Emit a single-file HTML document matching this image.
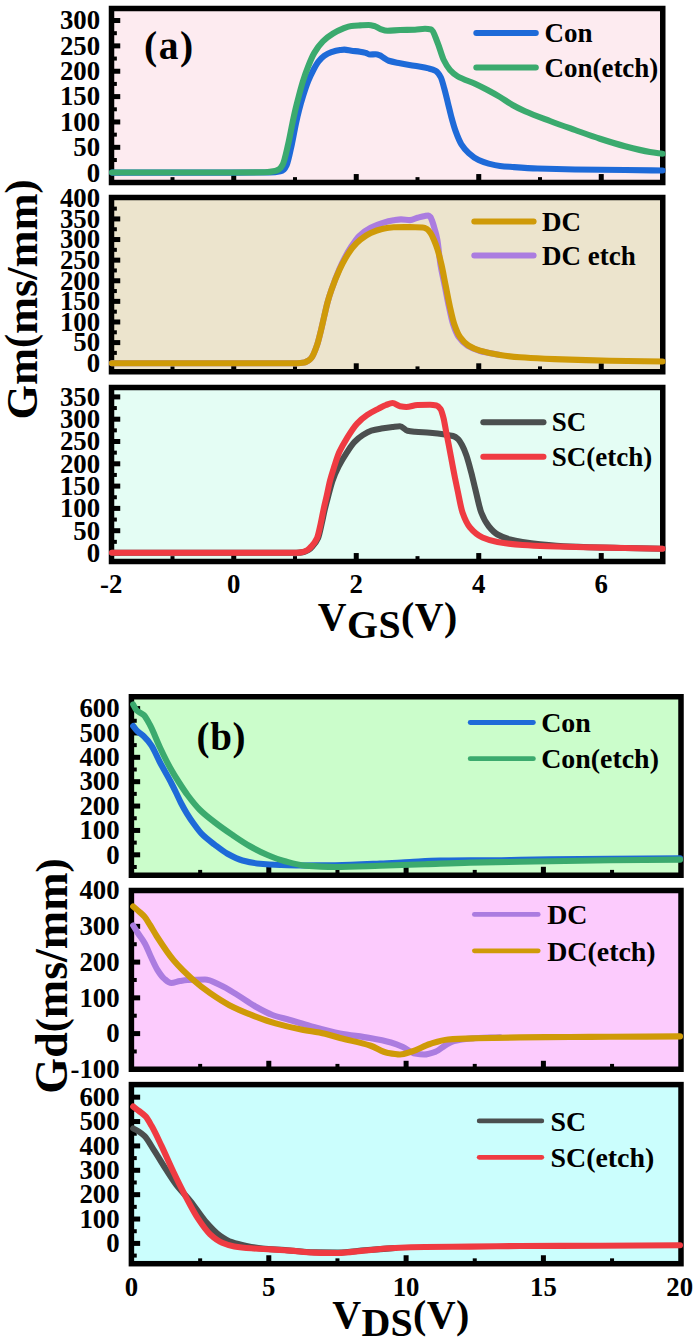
<!DOCTYPE html>
<html>
<head>
<meta charset="utf-8">
<title>Gm / Gd figure</title>
<style>
html,body{margin:0;padding:0;background:#fff;}
body{width:700px;height:1344px;overflow:hidden;}
svg{display:block;}
svg text{font-family:"Liberation Serif", "DejaVu Serif", serif;font-weight:bold;fill:#000;}
</style>
</head>
<body>
<svg width="700" height="1344" viewBox="0 0 700 1344">
<rect width="700" height="1344" fill="#fff"/>
<rect x="111.50" y="8.50" width="551.25" height="174.00" fill="#fdebf0"/>
<rect x="231.25" y="174.05" width="5.00" height="6.20" fill="#000"/>
<rect x="353.75" y="174.05" width="5.00" height="6.20" fill="#000"/>
<rect x="476.25" y="174.05" width="5.00" height="6.20" fill="#000"/>
<rect x="598.75" y="174.05" width="5.00" height="6.20" fill="#000"/>
<rect x="170.50" y="177.15" width="4.00" height="3.10" fill="#000"/>
<rect x="293.00" y="177.15" width="4.00" height="3.10" fill="#000"/>
<rect x="415.50" y="177.15" width="4.00" height="3.10" fill="#000"/>
<rect x="538.00" y="177.15" width="4.00" height="3.10" fill="#000"/>
<rect x="113.75" y="170.20" width="6.50" height="5.00" fill="#000"/>
<rect x="113.75" y="144.83" width="6.50" height="5.00" fill="#000"/>
<rect x="113.75" y="119.47" width="6.50" height="5.00" fill="#000"/>
<rect x="113.75" y="94.10" width="6.50" height="5.00" fill="#000"/>
<rect x="113.75" y="68.74" width="6.50" height="5.00" fill="#000"/>
<rect x="113.75" y="43.38" width="6.50" height="5.00" fill="#000"/>
<rect x="113.75" y="18.01" width="6.50" height="5.00" fill="#000"/>
<rect x="113.75" y="158.02" width="3.10" height="4.00" fill="#000"/>
<rect x="113.75" y="132.65" width="3.10" height="4.00" fill="#000"/>
<rect x="113.75" y="107.29" width="3.10" height="4.00" fill="#000"/>
<rect x="113.75" y="81.92" width="3.10" height="4.00" fill="#000"/>
<rect x="113.75" y="56.56" width="3.10" height="4.00" fill="#000"/>
<rect x="113.75" y="31.19" width="3.10" height="4.00" fill="#000"/>
<text x="100.10" y="181.50" font-size="26.80" text-anchor="end" >0</text>
<text x="100.10" y="156.13" font-size="26.80" text-anchor="end" >50</text>
<text x="100.10" y="130.77" font-size="26.80" text-anchor="end" >100</text>
<text x="100.10" y="105.40" font-size="26.80" text-anchor="end" >150</text>
<text x="100.10" y="80.04" font-size="26.80" text-anchor="end" >200</text>
<text x="100.10" y="54.67" font-size="26.80" text-anchor="end" >250</text>
<text x="100.10" y="29.31" font-size="26.80" text-anchor="end" >300</text>
<rect x="111.50" y="8.50" width="551.25" height="174.00" fill="none" stroke="#000" stroke-width="5.50"/>
<path d="M112.00 172.60 C141.33 172.60 170.67 172.60 200.00 172.60 C223.33 172.60 246.67 172.59 270.00 172.50 C273.47 172.49 276.93 172.04 280.40 171.30 C281.60 171.04 282.80 170.31 284.00 169.30 C284.90 168.54 285.80 166.97 286.70 165.00 C288.43 161.21 290.17 151.81 291.90 144.00 C293.27 137.84 294.63 129.62 296.00 123.30 C297.03 118.52 298.07 114.00 299.10 110.00 C300.47 104.72 301.83 100.05 303.20 95.70 C304.83 90.50 306.47 85.45 308.10 81.40 C309.87 77.02 311.63 73.30 313.40 70.00 C315.13 66.76 316.87 63.57 318.60 61.40 C320.50 59.02 322.40 56.99 324.30 55.70 C326.67 54.09 329.03 52.89 331.40 52.10 C334.27 51.14 337.13 50.37 340.00 50.00 C341.43 49.82 342.87 49.60 344.30 49.60 C346.67 49.60 349.03 50.38 351.40 50.70 C354.27 51.08 357.13 51.26 360.00 51.70 C361.90 51.99 363.80 52.38 365.70 52.90 C367.13 53.29 368.57 54.50 370.00 54.50 C371.90 54.50 373.80 54.30 375.70 54.30 C377.13 54.30 378.57 54.86 380.00 55.40 C380.83 55.72 381.67 56.48 382.50 57.00 C384.58 58.30 386.67 60.05 388.75 60.75 C392.50 62.00 396.25 62.45 400.00 63.20 C404.77 64.15 409.53 64.93 414.30 65.80 C419.07 66.67 423.83 67.21 428.60 68.40 C430.97 68.99 433.33 69.56 435.70 70.90 C437.37 71.84 439.03 74.05 440.70 77.10 C441.90 79.30 443.10 84.35 444.30 88.60 C445.50 92.85 446.70 98.08 447.90 102.90 C449.07 107.58 450.23 112.82 451.40 117.10 C452.83 122.36 454.27 127.50 455.70 131.40 C457.60 136.56 459.50 141.29 461.40 144.30 C463.80 148.10 466.20 150.73 468.60 152.90 C471.93 155.91 475.27 158.41 478.60 160.00 C481.93 161.59 485.27 162.71 488.60 163.60 C492.40 164.62 496.20 165.56 500.00 166.00 C504.17 166.49 508.33 166.71 512.50 167.00 C520.83 167.58 529.17 168.18 537.50 168.50 C550.00 168.97 562.50 169.31 575.00 169.50 C591.67 169.75 608.33 169.81 625.00 170.00 C637.50 170.14 650.00 170.33 662.50 170.50" fill="none" stroke="#1e6ad8" stroke-width="6.10" stroke-linecap="round" stroke-linejoin="round"/>
<path d="M112.00 172.50 C141.33 172.50 170.67 172.50 200.00 172.50 C221.67 172.50 243.33 172.47 265.00 172.30 C268.33 172.27 271.67 171.79 275.00 171.10 C276.33 170.82 277.67 170.19 279.00 169.30 C280.17 168.52 281.33 167.07 282.50 165.00 C284.40 161.63 286.30 152.07 288.20 144.00 C289.60 138.05 291.00 129.94 292.40 123.30 C293.37 118.72 294.33 114.13 295.30 110.00 C296.50 104.88 297.70 100.22 298.90 95.70 C300.23 90.68 301.57 85.65 302.90 81.40 C304.57 76.08 306.23 71.29 307.90 67.10 C310.03 61.74 312.17 56.50 314.30 52.90 C317.17 48.06 320.03 44.24 322.90 41.40 C326.23 38.09 329.57 35.63 332.90 33.60 C336.23 31.57 339.57 29.86 342.90 28.60 C345.73 27.53 348.57 26.32 351.40 26.00 C354.27 25.67 357.13 25.56 360.00 25.40 C362.87 25.24 365.73 25.00 368.60 25.00 C370.50 25.00 372.40 25.51 374.30 26.00 C376.20 26.49 378.10 28.14 380.00 28.80 C382.50 29.66 385.00 30.75 387.50 30.75 C391.67 30.75 395.83 30.13 400.00 30.00 C405.00 29.85 410.00 29.87 415.00 29.70 C418.33 29.58 421.67 28.75 425.00 28.75 C427.08 28.75 429.17 29.03 431.25 29.50 C433.33 29.97 435.42 37.53 437.50 42.50 C439.58 47.47 441.67 55.76 443.75 60.00 C445.83 64.24 447.92 67.69 450.00 70.00 C452.50 72.77 455.00 74.77 457.50 76.25 C463.33 79.70 469.17 81.05 475.00 83.75 C479.17 85.68 483.33 87.80 487.50 90.00 C491.67 92.20 495.83 94.51 500.00 97.00 C504.17 99.49 508.33 102.66 512.50 105.00 C516.67 107.34 520.83 109.40 525.00 111.25 C533.33 114.95 541.67 117.88 550.00 121.00 C558.33 124.12 566.67 127.04 575.00 130.00 C583.33 132.96 591.67 136.06 600.00 138.75 C608.33 141.44 616.67 144.08 625.00 146.25 C633.33 148.42 641.67 150.59 650.00 152.00 C654.17 152.71 658.33 153.17 662.50 153.75" fill="none" stroke="#3baa6e" stroke-width="6.10" stroke-linecap="round" stroke-linejoin="round"/>
<line x1="476.30" y1="33.10" x2="535.80" y2="33.10" stroke="#1e6ad8" stroke-width="6.00" stroke-linecap="round"/>
<line x1="476.30" y1="67.60" x2="535.80" y2="67.60" stroke="#3baa6e" stroke-width="6.00" stroke-linecap="round"/>
<text x="544.40" y="42.40" font-size="27.00" text-anchor="start" >Con</text>
<text x="544.40" y="76.60" font-size="27.00" text-anchor="start" >Con(etch)</text>
<text x="143.90" y="58.70" font-size="39.50" text-anchor="start" letter-spacing="1.6">(a)</text>
<rect x="111.50" y="197.50" width="551.25" height="174.25" fill="#ece4cd"/>
<rect x="231.25" y="363.30" width="5.00" height="6.20" fill="#000"/>
<rect x="353.75" y="363.30" width="5.00" height="6.20" fill="#000"/>
<rect x="476.25" y="363.30" width="5.00" height="6.20" fill="#000"/>
<rect x="598.75" y="363.30" width="5.00" height="6.20" fill="#000"/>
<rect x="170.50" y="366.40" width="4.00" height="3.10" fill="#000"/>
<rect x="293.00" y="366.40" width="4.00" height="3.10" fill="#000"/>
<rect x="415.50" y="366.40" width="4.00" height="3.10" fill="#000"/>
<rect x="538.00" y="366.40" width="4.00" height="3.10" fill="#000"/>
<rect x="113.75" y="360.70" width="6.50" height="5.00" fill="#000"/>
<rect x="113.75" y="340.09" width="6.50" height="5.00" fill="#000"/>
<rect x="113.75" y="319.48" width="6.50" height="5.00" fill="#000"/>
<rect x="113.75" y="298.87" width="6.50" height="5.00" fill="#000"/>
<rect x="113.75" y="278.26" width="6.50" height="5.00" fill="#000"/>
<rect x="113.75" y="257.65" width="6.50" height="5.00" fill="#000"/>
<rect x="113.75" y="237.04" width="6.50" height="5.00" fill="#000"/>
<rect x="113.75" y="216.43" width="6.50" height="5.00" fill="#000"/>
<rect x="113.75" y="350.89" width="3.10" height="4.00" fill="#000"/>
<rect x="113.75" y="330.28" width="3.10" height="4.00" fill="#000"/>
<rect x="113.75" y="309.68" width="3.10" height="4.00" fill="#000"/>
<rect x="113.75" y="289.06" width="3.10" height="4.00" fill="#000"/>
<rect x="113.75" y="268.45" width="3.10" height="4.00" fill="#000"/>
<rect x="113.75" y="247.84" width="3.10" height="4.00" fill="#000"/>
<rect x="113.75" y="227.23" width="3.10" height="4.00" fill="#000"/>
<rect x="113.75" y="206.62" width="3.10" height="4.00" fill="#000"/>
<text x="100.10" y="372.00" font-size="26.80" text-anchor="end" >0</text>
<text x="100.10" y="351.39" font-size="26.80" text-anchor="end" >50</text>
<text x="100.10" y="330.78" font-size="26.80" text-anchor="end" >100</text>
<text x="100.10" y="310.17" font-size="26.80" text-anchor="end" >150</text>
<text x="100.10" y="289.56" font-size="26.80" text-anchor="end" >200</text>
<text x="100.10" y="268.95" font-size="26.80" text-anchor="end" >250</text>
<text x="100.10" y="248.34" font-size="26.80" text-anchor="end" >300</text>
<text x="100.10" y="227.73" font-size="26.80" text-anchor="end" >350</text>
<text x="100.10" y="207.12" font-size="26.80" text-anchor="end" >400</text>
<rect x="111.50" y="197.50" width="551.25" height="174.25" fill="none" stroke="#000" stroke-width="5.50"/>
<path d="M112.00 363.30 C173.67 363.30 235.33 363.30 297.00 363.30 C299.43 363.30 301.87 363.02 304.30 362.60 C305.53 362.39 306.77 361.57 308.00 360.80 C309.13 360.10 310.27 359.25 311.40 357.90 C313.30 355.63 315.20 350.46 317.10 345.00 C318.37 341.36 319.63 335.81 320.90 330.70 C322.00 326.26 323.10 321.10 324.20 316.40 C325.33 311.56 326.47 306.22 327.60 302.10 C328.87 297.50 330.13 293.69 331.40 290.00 C334.00 282.43 336.60 275.51 339.20 269.50 C341.20 264.87 343.20 260.75 345.20 257.00 C347.30 253.07 349.40 249.45 351.50 246.30 C354.10 242.40 356.70 238.38 359.30 235.90 C363.10 232.28 366.90 229.66 370.70 227.70 C374.50 225.74 378.30 224.25 382.10 223.10 C385.93 221.94 389.77 220.91 393.60 220.30 C396.07 219.91 398.53 219.40 401.00 219.40 C404.00 219.40 407.00 220.10 410.00 220.10 C412.50 220.10 415.00 218.44 417.50 217.75 C420.00 217.06 422.50 216.27 425.00 215.90 C426.20 215.72 427.40 215.50 428.60 215.50 C429.20 215.50 429.80 216.27 430.40 217.00 C430.87 217.57 431.33 218.83 431.80 220.00 C432.80 222.50 433.80 225.94 434.80 229.50 C435.67 232.59 436.53 235.37 437.40 240.00 C438.40 245.35 439.40 258.05 440.40 264.30 C441.83 273.26 443.27 278.57 444.70 285.70 C446.13 292.83 447.57 300.58 449.00 307.10 C450.37 313.32 451.73 320.19 453.10 324.30 C454.97 329.91 456.83 334.45 458.70 337.10 C461.60 341.22 464.50 343.95 467.40 345.70 C471.60 348.24 475.80 349.83 480.00 351.00 C486.67 352.86 493.33 353.67 500.00 355.00" fill="none" stroke="#ab7ce0" stroke-width="6.10" stroke-linecap="round" stroke-linejoin="round"/>
<path d="M112.00 363.30 C141.33 363.30 170.67 363.30 200.00 363.30 C232.33 363.30 264.67 363.30 297.00 363.30 C299.43 363.30 301.87 363.02 304.30 362.60 C305.53 362.39 306.77 361.57 308.00 360.80 C309.13 360.10 310.27 359.25 311.40 357.90 C313.30 355.63 315.20 350.46 317.10 345.00 C318.37 341.36 319.63 335.81 320.90 330.70 C322.00 326.26 323.10 321.10 324.20 316.40 C325.33 311.56 326.47 306.22 327.60 302.10 C328.87 297.50 330.13 293.60 331.40 290.00 C334.07 282.42 336.73 275.79 339.40 270.00 C341.47 265.52 343.53 261.52 345.60 258.00 C347.87 254.14 350.13 250.45 352.40 247.70 C355.07 244.47 357.73 241.84 360.40 239.70 C363.83 236.95 367.27 234.48 370.70 232.90 C374.50 231.15 378.30 229.66 382.10 228.90 C385.93 228.14 389.77 227.42 393.60 227.30 C397.40 227.18 401.20 227.10 405.00 227.10 C408.57 227.10 412.13 227.14 415.70 227.20 C418.00 227.24 420.30 227.31 422.60 227.50 C424.10 227.62 425.60 228.27 427.10 229.10 C428.27 229.75 429.43 231.39 430.60 233.10 C431.73 234.76 432.87 237.38 434.00 240.00 C435.13 242.62 436.27 245.56 437.40 249.10 C438.73 253.27 440.07 258.56 441.40 264.30 C442.83 270.47 444.27 278.57 445.70 285.70 C447.13 292.83 448.57 300.74 450.00 307.10 C451.43 313.46 452.87 320.12 454.30 324.30 C456.20 329.84 458.10 334.40 460.00 337.10 C462.87 341.17 465.73 343.92 468.60 345.70 C472.40 348.06 476.20 349.57 480.00 350.70 C486.67 352.69 493.33 354.00 500.00 355.00 C506.67 356.00 513.33 356.79 520.00 357.30 C528.33 357.94 536.67 358.33 545.00 358.70 C553.33 359.07 561.67 359.34 570.00 359.60 C583.33 360.02 596.67 360.44 610.00 360.70 C627.50 361.05 645.00 361.23 662.50 361.50" fill="none" stroke="#cf9a08" stroke-width="6.10" stroke-linecap="round" stroke-linejoin="round"/>
<line x1="474.30" y1="221.60" x2="533.60" y2="221.60" stroke="#cf9a08" stroke-width="6.00" stroke-linecap="round"/>
<line x1="474.30" y1="255.60" x2="533.60" y2="255.60" stroke="#ab7ce0" stroke-width="6.00" stroke-linecap="round"/>
<text x="542.00" y="230.90" font-size="27.00" text-anchor="start" >DC</text>
<text x="542.00" y="265.10" font-size="27.00" text-anchor="start" >DC etch</text>
<rect x="111.50" y="387.50" width="551.25" height="174.00" fill="#e4fdf4"/>
<rect x="231.25" y="553.05" width="5.00" height="6.20" fill="#000"/>
<rect x="353.75" y="553.05" width="5.00" height="6.20" fill="#000"/>
<rect x="476.25" y="553.05" width="5.00" height="6.20" fill="#000"/>
<rect x="598.75" y="553.05" width="5.00" height="6.20" fill="#000"/>
<rect x="170.50" y="556.15" width="4.00" height="3.10" fill="#000"/>
<rect x="293.00" y="556.15" width="4.00" height="3.10" fill="#000"/>
<rect x="415.50" y="556.15" width="4.00" height="3.10" fill="#000"/>
<rect x="538.00" y="556.15" width="4.00" height="3.10" fill="#000"/>
<rect x="113.75" y="550.50" width="6.50" height="5.00" fill="#000"/>
<rect x="113.75" y="528.20" width="6.50" height="5.00" fill="#000"/>
<rect x="113.75" y="505.90" width="6.50" height="5.00" fill="#000"/>
<rect x="113.75" y="483.60" width="6.50" height="5.00" fill="#000"/>
<rect x="113.75" y="461.30" width="6.50" height="5.00" fill="#000"/>
<rect x="113.75" y="439.00" width="6.50" height="5.00" fill="#000"/>
<rect x="113.75" y="416.70" width="6.50" height="5.00" fill="#000"/>
<rect x="113.75" y="394.40" width="6.50" height="5.00" fill="#000"/>
<rect x="113.75" y="539.85" width="3.10" height="4.00" fill="#000"/>
<rect x="113.75" y="517.55" width="3.10" height="4.00" fill="#000"/>
<rect x="113.75" y="495.25" width="3.10" height="4.00" fill="#000"/>
<rect x="113.75" y="472.95" width="3.10" height="4.00" fill="#000"/>
<rect x="113.75" y="450.65" width="3.10" height="4.00" fill="#000"/>
<rect x="113.75" y="428.35" width="3.10" height="4.00" fill="#000"/>
<rect x="113.75" y="406.05" width="3.10" height="4.00" fill="#000"/>
<text x="100.10" y="561.80" font-size="26.80" text-anchor="end" >0</text>
<text x="100.10" y="539.50" font-size="26.80" text-anchor="end" >50</text>
<text x="100.10" y="517.20" font-size="26.80" text-anchor="end" >100</text>
<text x="100.10" y="494.90" font-size="26.80" text-anchor="end" >150</text>
<text x="100.10" y="472.60" font-size="26.80" text-anchor="end" >200</text>
<text x="100.10" y="450.30" font-size="26.80" text-anchor="end" >250</text>
<text x="100.10" y="428.00" font-size="26.80" text-anchor="end" >300</text>
<text x="100.10" y="405.70" font-size="26.80" text-anchor="end" >350</text>
<rect x="111.50" y="387.50" width="551.25" height="174.00" fill="none" stroke="#000" stroke-width="5.50"/>
<path d="M112.00 552.80 C173.67 552.80 235.33 552.80 297.00 552.80 C299.33 552.80 301.67 552.44 304.00 552.00 C305.50 551.72 307.00 550.91 308.50 550.00 C309.80 549.21 311.10 547.86 312.40 546.40 C314.30 544.26 316.20 542.17 318.10 537.90 C319.30 535.21 320.50 528.73 321.70 523.60 C322.73 519.18 323.77 513.66 324.80 509.30 C326.03 504.10 327.27 499.58 328.50 495.00 C329.83 490.05 331.17 484.53 332.50 480.70 C334.53 474.86 336.57 470.42 338.60 466.40 C341.43 460.80 344.27 456.40 347.10 452.10 C349.50 448.46 351.90 444.60 354.30 442.10 C357.17 439.11 360.03 436.80 362.90 435.00 C365.73 433.22 368.57 431.55 371.40 430.70 C374.73 429.70 378.07 429.17 381.40 428.60 C385.10 427.97 388.80 427.43 392.50 427.00 C395.00 426.71 397.50 426.25 400.00 426.25 C402.50 426.25 405.00 430.20 407.50 430.75 C410.00 431.30 412.50 431.51 415.00 431.75 C420.00 432.23 425.00 432.37 430.00 432.80 C435.00 433.23 440.00 433.78 445.00 434.50 C447.67 434.89 450.33 435.21 453.00 436.00 C454.67 436.50 456.33 437.55 458.00 439.00 C459.33 440.16 460.67 442.56 462.00 445.00 C463.42 447.59 464.83 451.03 466.25 455.00 C467.92 459.67 469.58 466.18 471.25 472.50 C472.67 477.87 474.08 484.31 475.50 490.00 C477.42 497.70 479.33 507.64 481.25 512.50 C483.75 518.84 486.25 523.11 488.75 526.25 C491.67 529.91 494.58 532.82 497.50 534.50 C501.67 536.90 505.83 538.39 510.00 539.50 C514.17 540.61 518.33 541.34 522.50 542.00 C528.33 542.92 534.17 543.68 540.00 544.25 C550.00 545.22 560.00 546.08 570.00 546.50 C588.33 547.27 606.67 547.58 625.00 548.00 C637.50 548.29 650.00 548.50 662.50 548.75" fill="none" stroke="#4b4f4f" stroke-width="6.10" stroke-linecap="round" stroke-linejoin="round"/>
<path d="M112.00 552.80 C141.33 552.80 170.67 552.80 200.00 552.80 C232.00 552.80 264.00 552.80 296.00 552.80 C298.30 552.80 300.60 552.44 302.90 552.00 C304.43 551.71 305.97 550.92 307.50 550.00 C308.80 549.22 310.10 547.86 311.40 546.40 C313.30 544.26 315.20 542.17 317.10 537.90 C318.30 535.21 319.50 528.90 320.70 523.60 C321.67 519.33 322.63 513.77 323.60 509.30 C324.70 504.22 325.80 499.92 326.90 495.00 C327.93 490.38 328.97 484.73 330.00 480.70 C331.43 475.11 332.87 470.82 334.30 466.40 C335.97 461.26 337.63 455.87 339.30 452.10 C341.90 446.22 344.50 442.09 347.10 437.90 C350.43 432.53 353.77 427.18 357.10 423.60 C360.43 420.02 363.77 417.26 367.10 415.00 C370.93 412.40 374.77 410.58 378.60 408.60 C381.07 407.33 383.53 405.93 386.00 405.00 C388.17 404.19 390.33 403.00 392.50 403.00 C395.00 403.00 397.50 405.79 400.00 406.25 C402.08 406.63 404.17 407.00 406.25 407.00 C410.00 407.00 413.75 405.11 417.50 405.00 C421.67 404.88 425.83 404.80 430.00 404.80 C432.17 404.80 434.33 405.06 436.50 405.50 C437.83 405.77 439.17 407.15 440.50 409.00 C441.50 410.39 442.50 414.16 443.50 418.00 C444.33 421.20 445.17 426.71 446.00 431.00 C446.92 435.72 447.83 440.23 448.75 445.00 C450.00 451.50 451.25 458.42 452.50 465.00 C453.33 469.38 454.17 473.84 455.00 478.00 C455.83 482.16 456.67 486.12 457.50 490.00 C459.17 497.77 460.83 507.76 462.50 512.50 C465.00 519.61 467.50 524.54 470.00 527.50 C474.17 532.44 478.33 535.66 482.50 537.50 C487.50 539.71 492.50 541.11 497.50 542.00 C505.83 543.48 514.17 544.41 522.50 545.00 C530.83 545.59 539.17 545.95 547.50 546.25 C560.00 546.71 572.50 547.03 585.00 547.30 C598.33 547.59 611.67 547.75 625.00 548.00 C637.50 548.23 650.00 548.50 662.50 548.75" fill="none" stroke="#ef3b42" stroke-width="6.10" stroke-linecap="round" stroke-linejoin="round"/>
<line x1="483.30" y1="422.20" x2="543.50" y2="422.20" stroke="#4b4f4f" stroke-width="6.00" stroke-linecap="round"/>
<line x1="483.30" y1="456.80" x2="543.50" y2="456.80" stroke="#ef3b42" stroke-width="6.00" stroke-linecap="round"/>
<text x="551.80" y="431.10" font-size="27.00" text-anchor="start" >SC</text>
<text x="551.80" y="465.60" font-size="27.00" text-anchor="start" >SC(etch)</text>
<text x="111.25" y="593.20" font-size="26.80" text-anchor="middle" >-2</text>
<text x="233.75" y="593.20" font-size="26.80" text-anchor="middle" >0</text>
<text x="356.25" y="593.20" font-size="26.80" text-anchor="middle" >2</text>
<text x="478.75" y="593.20" font-size="26.80" text-anchor="middle" >4</text>
<text x="601.25" y="593.20" font-size="26.80" text-anchor="middle" >6</text>
<text x="317.8" y="630.1" font-size="39.8" letter-spacing="0.45">V<tspan dy="8.2">GS</tspan><tspan dy="-8.2">(V)</tspan></text>
<text x="0" y="0" font-size="44.4" text-anchor="middle" transform="translate(36.8 299.5) rotate(-90)">Gm<tspan font-size="42.1" dy="-2.6">(</tspan><tspan dy="2.6">ms/mm</tspan><tspan font-size="42.1" dy="-2.6">)</tspan></text>
<rect x="131.40" y="696.75" width="549.60" height="178.50" fill="#cbfdcb"/>
<rect x="266.30" y="866.80" width="5.00" height="6.20" fill="#000"/>
<rect x="403.60" y="866.80" width="5.00" height="6.20" fill="#000"/>
<rect x="540.90" y="866.80" width="5.00" height="6.20" fill="#000"/>
<rect x="198.15" y="869.90" width="4.00" height="3.10" fill="#000"/>
<rect x="335.45" y="869.90" width="4.00" height="3.10" fill="#000"/>
<rect x="472.75" y="869.90" width="4.00" height="3.10" fill="#000"/>
<rect x="610.05" y="869.90" width="4.00" height="3.10" fill="#000"/>
<rect x="133.65" y="852.30" width="6.50" height="5.00" fill="#000"/>
<rect x="133.65" y="827.93" width="6.50" height="5.00" fill="#000"/>
<rect x="133.65" y="803.56" width="6.50" height="5.00" fill="#000"/>
<rect x="133.65" y="779.19" width="6.50" height="5.00" fill="#000"/>
<rect x="133.65" y="754.82" width="6.50" height="5.00" fill="#000"/>
<rect x="133.65" y="730.45" width="6.50" height="5.00" fill="#000"/>
<rect x="133.65" y="706.08" width="6.50" height="5.00" fill="#000"/>
<rect x="133.65" y="864.98" width="3.10" height="4.00" fill="#000"/>
<rect x="133.65" y="840.62" width="3.10" height="4.00" fill="#000"/>
<rect x="133.65" y="816.25" width="3.10" height="4.00" fill="#000"/>
<rect x="133.65" y="791.88" width="3.10" height="4.00" fill="#000"/>
<rect x="133.65" y="767.50" width="3.10" height="4.00" fill="#000"/>
<rect x="133.65" y="743.13" width="3.10" height="4.00" fill="#000"/>
<rect x="133.65" y="718.76" width="3.10" height="4.00" fill="#000"/>
<text x="119.60" y="863.60" font-size="26.80" text-anchor="end" >0</text>
<text x="119.60" y="839.23" font-size="26.80" text-anchor="end" >100</text>
<text x="119.60" y="814.86" font-size="26.80" text-anchor="end" >200</text>
<text x="119.60" y="790.49" font-size="26.80" text-anchor="end" >300</text>
<text x="119.60" y="766.12" font-size="26.80" text-anchor="end" >400</text>
<text x="119.60" y="741.75" font-size="26.80" text-anchor="end" >500</text>
<text x="119.60" y="717.38" font-size="26.80" text-anchor="end" >600</text>
<rect x="131.40" y="696.75" width="549.60" height="178.50" fill="none" stroke="#000" stroke-width="5.50"/>
<path d="M133.20 726.00 C134.63 727.75 136.07 729.85 137.50 731.25 C139.58 733.29 141.67 734.26 143.75 736.25 C146.33 738.72 148.92 741.73 151.50 745.60 C154.13 749.55 156.77 756.24 159.40 761.25 C163.20 768.48 167.00 774.68 170.80 782.00 C172.53 785.34 174.27 788.93 176.00 792.50 C177.67 795.93 179.33 799.79 181.00 803.00 C182.93 806.73 184.87 810.14 186.80 813.30 C189.12 817.08 191.43 820.56 193.75 823.75 C196.50 827.54 199.25 831.41 202.00 834.20 C206.20 838.46 210.40 841.39 214.60 844.60 C218.90 847.88 223.20 851.37 227.50 853.75 C232.50 856.52 237.50 859.17 242.50 860.50 C248.33 862.05 254.17 863.20 260.00 863.75 C266.67 864.38 273.33 864.76 280.00 865.00 C286.67 865.24 293.33 865.50 300.00 865.50 C311.67 865.50 323.33 865.36 335.00 865.20 C350.00 865.00 365.00 864.25 380.00 863.60 C390.00 863.17 400.00 862.50 410.00 862.00 C420.00 861.50 430.00 860.81 440.00 860.60 C450.00 860.39 460.00 860.20 470.00 860.20 C478.33 860.20 486.67 860.20 495.00 860.20 C503.33 860.20 511.67 859.92 520.00 859.80 C530.00 859.65 540.00 859.52 550.00 859.40 C570.00 859.17 590.00 858.98 610.00 858.80 C633.33 858.58 656.67 858.40 680.00 858.20" fill="none" stroke="#1e6ad8" stroke-width="6.10" stroke-linecap="round" stroke-linejoin="round"/>
<path d="M133.20 704.50 C134.22 706.33 135.23 708.94 136.25 710.00 C138.75 712.60 141.25 712.62 143.75 715.00 C145.83 716.99 147.92 721.15 150.00 725.00 C153.33 731.15 156.67 740.44 160.00 747.50 C163.33 754.56 166.67 761.47 170.00 767.50 C172.92 772.78 175.83 777.43 178.75 782.00 C181.67 786.57 184.58 791.10 187.50 795.00 C191.67 800.57 195.83 805.88 200.00 810.00 C205.00 814.95 210.00 818.65 215.00 822.50 C220.83 827.00 226.67 831.05 232.50 835.00 C238.33 838.95 244.17 842.97 250.00 846.25 C255.83 849.53 261.67 852.57 267.50 855.00 C273.33 857.43 279.17 859.66 285.00 861.25 C291.67 863.06 298.33 865.06 305.00 865.60 C315.00 866.40 325.00 867.00 335.00 867.00 C350.00 867.00 365.00 866.26 380.00 865.80 C395.00 865.34 410.00 864.73 425.00 864.20 C440.00 863.67 455.00 862.93 470.00 862.60 C486.67 862.23 503.33 862.10 520.00 861.80 C530.00 861.62 540.00 861.37 550.00 861.20 C570.00 860.85 590.00 860.54 610.00 860.30 C633.33 860.02 656.67 859.83 680.00 859.60" fill="none" stroke="#3baa6e" stroke-width="6.10" stroke-linecap="round" stroke-linejoin="round"/>
<line x1="470.20" y1="722.50" x2="533.40" y2="722.50" stroke="#1e6ad8" stroke-width="4.80" stroke-linecap="round"/>
<line x1="470.20" y1="758.70" x2="533.40" y2="758.70" stroke="#3baa6e" stroke-width="4.80" stroke-linecap="round"/>
<text x="541.20" y="731.60" font-size="27.90" text-anchor="start" >Con</text>
<text x="541.20" y="767.90" font-size="27.90" text-anchor="start" >Con(etch)</text>
<text x="196.60" y="749.70" font-size="39.00" text-anchor="start" letter-spacing="0.6">(b)</text>
<rect x="131.40" y="890.50" width="549.60" height="178.75" fill="#fccbfd"/>
<rect x="266.30" y="1060.80" width="5.00" height="6.20" fill="#000"/>
<rect x="403.60" y="1060.80" width="5.00" height="6.20" fill="#000"/>
<rect x="540.90" y="1060.80" width="5.00" height="6.20" fill="#000"/>
<rect x="198.15" y="1063.90" width="4.00" height="3.10" fill="#000"/>
<rect x="335.45" y="1063.90" width="4.00" height="3.10" fill="#000"/>
<rect x="472.75" y="1063.90" width="4.00" height="3.10" fill="#000"/>
<rect x="610.05" y="1063.90" width="4.00" height="3.10" fill="#000"/>
<rect x="133.65" y="1031.10" width="6.50" height="5.00" fill="#000"/>
<rect x="133.65" y="995.35" width="6.50" height="5.00" fill="#000"/>
<rect x="133.65" y="959.60" width="6.50" height="5.00" fill="#000"/>
<rect x="133.65" y="923.85" width="6.50" height="5.00" fill="#000"/>
<rect x="133.65" y="1049.47" width="3.10" height="4.00" fill="#000"/>
<rect x="133.65" y="1013.72" width="3.10" height="4.00" fill="#000"/>
<rect x="133.65" y="977.97" width="3.10" height="4.00" fill="#000"/>
<rect x="133.65" y="942.22" width="3.10" height="4.00" fill="#000"/>
<rect x="133.65" y="906.47" width="3.10" height="4.00" fill="#000"/>
<text x="119.60" y="1078.15" font-size="26.80" text-anchor="end" >-100</text>
<text x="119.60" y="1042.40" font-size="26.80" text-anchor="end" >0</text>
<text x="119.60" y="1006.65" font-size="26.80" text-anchor="end" >100</text>
<text x="119.60" y="970.90" font-size="26.80" text-anchor="end" >200</text>
<text x="119.60" y="935.15" font-size="26.80" text-anchor="end" >300</text>
<text x="119.60" y="899.40" font-size="26.80" text-anchor="end" >400</text>
<rect x="131.40" y="890.50" width="549.60" height="178.75" fill="none" stroke="#000" stroke-width="5.50"/>
<path d="M133.20 925.50 C134.63 927.83 136.07 930.25 137.50 932.50 C140.00 936.42 142.50 939.26 145.00 943.75 C147.08 947.49 149.17 953.13 151.25 957.50 C153.33 961.87 155.42 966.70 157.50 970.00 C159.67 973.43 161.83 976.66 164.00 978.50 C166.42 980.55 168.83 983.00 171.25 983.00 C174.17 983.00 177.08 981.49 180.00 981.00 C182.50 980.58 185.00 980.13 187.50 980.00 C193.33 979.70 199.17 979.50 205.00 979.50 C210.00 979.50 215.00 982.78 220.00 985.00 C225.83 987.59 231.67 991.47 237.50 995.00 C243.33 998.53 249.17 1002.97 255.00 1006.25 C260.83 1009.53 266.67 1012.88 272.50 1015.00 C278.33 1017.12 284.17 1018.29 290.00 1020.00 C296.67 1021.95 303.33 1024.17 310.00 1026.00 C320.00 1028.74 330.00 1031.62 340.00 1033.50 C350.00 1035.38 360.00 1036.22 370.00 1038.00 C377.00 1039.25 384.00 1040.54 391.00 1042.50 C395.00 1043.62 399.00 1045.22 403.00 1047.00 C407.00 1048.78 411.00 1052.94 415.00 1053.60 C418.00 1054.09 421.00 1054.50 424.00 1054.50 C428.00 1054.50 432.00 1052.99 436.00 1051.50 C439.00 1050.38 442.00 1047.21 445.00 1045.50 C448.00 1043.79 451.00 1041.75 454.00 1041.00 C459.33 1039.66 464.67 1038.88 470.00 1038.50 C480.00 1037.78 490.00 1037.63 500.00 1037.20" fill="none" stroke="#ab7ce0" stroke-width="6.10" stroke-linecap="round" stroke-linejoin="round"/>
<path d="M133.20 906.50 C135.13 908.17 137.07 909.76 139.00 911.50 C140.80 913.12 142.60 914.52 144.40 916.60 C146.27 918.76 148.13 922.06 150.00 925.00 C152.20 928.47 154.40 932.58 156.60 936.00 C162.27 944.82 167.93 953.61 173.60 960.30 C180.07 967.94 186.53 974.01 193.00 979.70 C198.67 984.68 204.33 989.14 210.00 993.10 C216.47 997.61 222.93 1001.84 229.40 1005.20 C236.70 1008.99 244.00 1012.04 251.30 1014.90 C259.40 1018.07 267.50 1021.08 275.60 1023.40 C283.73 1025.73 291.87 1027.63 300.00 1029.30 C308.33 1031.01 316.67 1031.89 325.00 1033.75 C330.00 1034.86 335.00 1036.66 340.00 1038.00 C350.00 1040.67 360.00 1042.31 370.00 1045.50 C376.00 1047.41 382.00 1051.89 388.00 1053.00 C392.00 1053.74 396.00 1054.50 400.00 1054.50 C404.00 1054.50 408.00 1052.73 412.00 1051.50 C418.00 1049.66 424.00 1045.88 430.00 1044.00 C436.00 1042.12 442.00 1039.97 448.00 1039.50 C457.00 1038.79 466.00 1038.56 475.00 1038.30 C490.00 1037.87 505.00 1037.57 520.00 1037.40 C536.67 1037.21 553.33 1037.10 570.00 1037.00 C583.33 1036.92 596.67 1036.87 610.00 1036.80 C633.33 1036.68 656.67 1036.53 680.00 1036.40" fill="none" stroke="#cf9a08" stroke-width="6.10" stroke-linecap="round" stroke-linejoin="round"/>
<line x1="474.40" y1="914.40" x2="538.20" y2="914.40" stroke="#ab7ce0" stroke-width="4.80" stroke-linecap="round"/>
<line x1="474.40" y1="950.80" x2="538.20" y2="950.80" stroke="#cf9a08" stroke-width="4.80" stroke-linecap="round"/>
<text x="547.20" y="923.60" font-size="27.90" text-anchor="start" >DC</text>
<text x="547.20" y="960.50" font-size="27.90" text-anchor="start" >DC(etch)</text>
<rect x="131.40" y="1084.60" width="549.60" height="179.10" fill="#cbfefd"/>
<rect x="266.30" y="1255.25" width="5.00" height="6.20" fill="#000"/>
<rect x="403.60" y="1255.25" width="5.00" height="6.20" fill="#000"/>
<rect x="540.90" y="1255.25" width="5.00" height="6.20" fill="#000"/>
<rect x="198.15" y="1258.35" width="4.00" height="3.10" fill="#000"/>
<rect x="335.45" y="1258.35" width="4.00" height="3.10" fill="#000"/>
<rect x="472.75" y="1258.35" width="4.00" height="3.10" fill="#000"/>
<rect x="610.05" y="1258.35" width="4.00" height="3.10" fill="#000"/>
<rect x="133.65" y="1240.90" width="6.50" height="5.00" fill="#000"/>
<rect x="133.65" y="1216.53" width="6.50" height="5.00" fill="#000"/>
<rect x="133.65" y="1192.16" width="6.50" height="5.00" fill="#000"/>
<rect x="133.65" y="1167.79" width="6.50" height="5.00" fill="#000"/>
<rect x="133.65" y="1143.42" width="6.50" height="5.00" fill="#000"/>
<rect x="133.65" y="1119.05" width="6.50" height="5.00" fill="#000"/>
<rect x="133.65" y="1094.68" width="6.50" height="5.00" fill="#000"/>
<rect x="133.65" y="1253.59" width="3.10" height="4.00" fill="#000"/>
<rect x="133.65" y="1229.22" width="3.10" height="4.00" fill="#000"/>
<rect x="133.65" y="1204.85" width="3.10" height="4.00" fill="#000"/>
<rect x="133.65" y="1180.48" width="3.10" height="4.00" fill="#000"/>
<rect x="133.65" y="1156.11" width="3.10" height="4.00" fill="#000"/>
<rect x="133.65" y="1131.74" width="3.10" height="4.00" fill="#000"/>
<rect x="133.65" y="1107.37" width="3.10" height="4.00" fill="#000"/>
<text x="119.60" y="1252.20" font-size="26.80" text-anchor="end" >0</text>
<text x="119.60" y="1227.83" font-size="26.80" text-anchor="end" >100</text>
<text x="119.60" y="1203.46" font-size="26.80" text-anchor="end" >200</text>
<text x="119.60" y="1179.09" font-size="26.80" text-anchor="end" >300</text>
<text x="119.60" y="1154.72" font-size="26.80" text-anchor="end" >400</text>
<text x="119.60" y="1130.35" font-size="26.80" text-anchor="end" >500</text>
<text x="119.60" y="1105.98" font-size="26.80" text-anchor="end" >600</text>
<rect x="131.40" y="1084.60" width="549.60" height="179.10" fill="none" stroke="#000" stroke-width="5.50"/>
<path d="M133.20 1128.40 C135.05 1129.43 136.90 1130.30 138.75 1131.50 C140.63 1132.72 142.52 1134.02 144.40 1135.90 C147.63 1139.12 150.87 1145.41 154.10 1150.40 C158.17 1156.67 162.23 1163.63 166.30 1169.90 C169.53 1174.89 172.77 1180.13 176.00 1184.40 C180.87 1190.82 185.73 1195.33 190.60 1201.40 C195.43 1207.43 200.27 1215.38 205.10 1220.90 C209.97 1226.46 214.83 1231.95 219.70 1235.40 C223.77 1238.28 227.83 1240.76 231.90 1242.20 C236.73 1243.91 241.57 1244.94 246.40 1245.90 C251.77 1246.97 257.13 1247.98 262.50 1248.50 C270.00 1249.22 277.50 1249.46 285.00 1250.00 C294.67 1250.70 304.33 1252.16 314.00 1252.30 C322.00 1252.42 330.00 1252.50 338.00 1252.50 C347.00 1252.50 356.00 1251.01 365.00 1250.30 C375.00 1249.51 385.00 1248.77 395.00 1248.00" fill="none" stroke="#4b4f4f" stroke-width="6.10" stroke-linecap="round" stroke-linejoin="round"/>
<path d="M133.20 1106.50 C135.13 1108.00 137.07 1109.46 139.00 1111.00 C141.20 1112.75 143.40 1114.01 145.60 1116.40 C147.63 1118.61 149.67 1122.52 151.70 1126.10 C154.93 1131.79 158.17 1138.84 161.40 1145.60 C165.47 1154.11 169.53 1163.78 173.60 1172.30 C177.63 1180.75 181.67 1188.97 185.70 1196.60 C189.77 1204.29 193.83 1212.27 197.90 1218.40 C201.93 1224.48 205.97 1230.52 210.00 1234.20 C214.03 1237.88 218.07 1240.99 222.10 1242.70 C226.17 1244.42 230.23 1245.72 234.30 1246.40 C239.97 1247.35 245.63 1247.87 251.30 1248.30 C257.77 1248.79 264.23 1249.02 270.70 1249.40 C277.13 1249.78 283.57 1250.14 290.00 1250.60 C298.00 1251.17 306.00 1252.38 314.00 1252.60 C322.00 1252.82 330.00 1253.00 338.00 1253.00 C347.00 1253.00 356.00 1251.29 365.00 1250.50 C375.00 1249.62 385.00 1248.48 395.00 1248.00 C405.00 1247.52 415.00 1247.15 425.00 1247.00 C440.00 1246.78 455.00 1246.75 470.00 1246.60 C486.67 1246.43 503.33 1246.10 520.00 1246.00 C546.67 1245.84 573.33 1245.81 600.00 1245.70 C626.67 1245.59 653.33 1245.43 680.00 1245.30" fill="none" stroke="#ef3b42" stroke-width="6.10" stroke-linecap="round" stroke-linejoin="round"/>
<line x1="479.20" y1="1120.90" x2="541.80" y2="1120.90" stroke="#4b4f4f" stroke-width="4.80" stroke-linecap="round"/>
<line x1="479.20" y1="1157.30" x2="541.80" y2="1157.30" stroke="#ef3b42" stroke-width="4.80" stroke-linecap="round"/>
<text x="550.50" y="1130.60" font-size="27.90" text-anchor="start" >SC</text>
<text x="550.50" y="1166.90" font-size="27.90" text-anchor="start" >SC(etch)</text>
<text x="131.50" y="1295.70" font-size="26.80" text-anchor="middle" >0</text>
<text x="268.80" y="1295.70" font-size="26.80" text-anchor="middle" >5</text>
<text x="406.10" y="1295.70" font-size="26.80" text-anchor="middle" >10</text>
<text x="543.40" y="1295.70" font-size="26.80" text-anchor="middle" >15</text>
<text x="679.70" y="1295.70" font-size="26.80" text-anchor="middle" >20</text>
<text x="332.2" y="1328.3" font-size="40" letter-spacing="0.3">V<tspan dy="7.2">DS</tspan><tspan dy="-7.2">(V)</tspan></text>
<text x="0" y="0" font-size="46" text-anchor="middle" transform="translate(67.2 976) rotate(-90)">Gd<tspan font-size="42.4" dy="-1.8">(</tspan><tspan dy="1.8">ms/mm</tspan><tspan font-size="42.4" dy="-1.8">)</tspan></text>
</svg>
</body>
</html>
